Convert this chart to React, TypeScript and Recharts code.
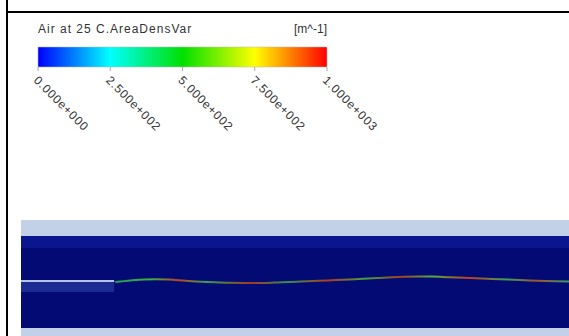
import React from 'react';
import {
  BarChart, Bar, XAxis, YAxis, ComposedChart, Line, ReferenceArea, ReferenceLine,
} from 'recharts';

// Colour legend (Air at 25 C.AreaDensVar, m^-1)
const legendTicks = [0, 250, 500, 750, 1000];
const legendRange = [{ name: 'AreaDensVar', value: 1000 }];
const legendStops = [
  { offset: 0, color: '#0000ff' },
  { offset: 0.25, color: '#00ffff' },
  { offset: 0.5, color: '#00e000' },
  { offset: 0.75, color: '#ffff00' },
  { offset: 1, color: '#ff0000' },
];

// Channel cross-section (x: % of length, y: height in mm)
const interfaceX = [17.2, 20, 22.5, 24.5, 27, 30, 34, 38, 42, 46, 51, 56, 60, 65, 69, 72.5, 75, 78, 82, 86, 91, 95.5, 100];
const interfaceY = [27, 27.8, 28.3, 28.4, 28.2, 27.6, 27, 26.6, 26.5, 26.7, 27.2, 27.8, 28.3, 29, 29.5, 29.7, 29.7, 29.4, 29, 28.5, 28, 27.5, 27.2];
const interfaceData = interfaceX.map((x, i) => ({ x, y: interfaceY[i] }));

const channelTop = 58;
const wallTop = 50;
const upperLayer = 44;
const wallBottom = 4;
const inletEnd = 17;
const inletWall = 27.5;
const inletJetBottom = 22;

const font = '"Liberation Sans", Arial, Helvetica, sans-serif';

const fmt = (v: number) => {
  if (v === 0) return '0.000e+000';
  const e = Math.floor(Math.log10(v));
  const m = v / Math.pow(10, e);
  return `${m.toFixed(3)}e+${String(e).padStart(3, '0')}`;
};

const LegendTick = (props: any) => {
  const { x, y, payload } = props;
  const ax = x - 5;
  const ay = y + 8;
  return (
    <text
      x={ax}
      y={ay}
      transform={`rotate(45, ${ax}, ${ay})`}
      textAnchor="start"
      fontSize={12}
      letterSpacing={0.8}
      fill="#333"
      fontFamily={font}
    >
      {fmt(payload.value)}
    </text>
  );
};

export default function App() {
  return (
    <div style={{ position: 'absolute', left: 0, top: 0, width: 569, height: 336, overflow: 'hidden', background: '#fff' }}>
      {/* frame */}
      <div style={{ position: 'absolute', left: 6, top: 0, width: 2, height: 336, background: '#000' }} />
      <div style={{ position: 'absolute', left: 6, top: 11, width: 563, height: 2, background: '#000' }} />

      {/* legend title */}
      <div style={{ position: 'absolute', left: 38, top: 22, fontFamily: font, fontSize: 12, letterSpacing: 1, color: '#333', whiteSpace: 'nowrap' }}>
        Air at 25 C.AreaDensVar
      </div>
      <div style={{ position: 'absolute', left: 293, top: 22, width: 34, textAlign: 'right', fontFamily: font, fontSize: 12, color: '#333', whiteSpace: 'nowrap' }}>
        [m^-1]
      </div>

      {/* legend colour bar */}
      <div style={{ position: 'absolute', left: 0, top: 0 }}>
        <BarChart
          width={569}
          height={150}
          data={legendRange}
          layout="vertical"
          margin={{ top: 47, left: 38, right: 242, bottom: 0 }}
          barCategoryGap={0}
        >
          <defs>
            <linearGradient id="rainbow" x1="0" y1="0" x2="1" y2="0">
              {legendStops.map((s) => (
                <stop key={s.offset} offset={s.offset} stopColor={s.color} />
              ))}
            </linearGradient>
          </defs>
          <XAxis
            type="number"
            domain={[0, 1000]}
            ticks={legendTicks}
            height={83}
            axisLine={false}
            tickLine={{ stroke: '#aaa' }}
            tickSize={4}
            tick={<LegendTick />}
            interval={0}
          />
          <YAxis type="category" dataKey="name" hide />
          <Bar dataKey="value" fill="url(#rainbow)" stroke="#bbb" strokeWidth={0.5} isAnimationActive={false} />
        </BarChart>
      </div>

      {/* channel contour */}
      <div style={{ position: 'absolute', left: 0, top: 0 }}>
        <ComposedChart
          width={569}
          height={336}
          data={interfaceData}
          margin={{ top: 220, left: 21, right: 0, bottom: 0 }}
        >
          <defs>
            <linearGradient id="iface" x1="0" y1="0" x2="1" y2="0">
              <stop offset="0" stopColor="#20a050" />
              <stop offset="0.08" stopColor="#40b040" />
              <stop offset="0.14" stopColor="#c04020" />
              <stop offset="0.2" stopColor="#30a050" />
              <stop offset="0.3" stopColor="#a03a20" />
              <stop offset="0.38" stopColor="#309050" />
              <stop offset="0.47" stopColor="#b03a20" />
              <stop offset="0.55" stopColor="#40a040" />
              <stop offset="0.63" stopColor="#a04020" />
              <stop offset="0.7" stopColor="#50b040" />
              <stop offset="0.78" stopColor="#c03a20" />
              <stop offset="0.86" stopColor="#40a050" />
              <stop offset="0.93" stopColor="#a05030" />
              <stop offset="1" stopColor="#30a060" />
            </linearGradient>
          </defs>
          <XAxis type="number" dataKey="x" domain={[0, 100]} hide />
          <YAxis type="number" domain={[0, channelTop]} hide />
          <ReferenceArea x1={0} x2={100} y1={wallTop} y2={channelTop} fill="#c3d1e8" fillOpacity={1} stroke="none" />
          <ReferenceArea x1={0} x2={100} y1={upperLayer} y2={wallTop} fill="#0b168e" fillOpacity={1} stroke="none" />
          <ReferenceArea x1={0} x2={100} y1={wallBottom} y2={upperLayer} fill="#040a74" fillOpacity={1} stroke="none" />
          <ReferenceArea x1={0} x2={100} y1={0} y2={wallBottom} fill="#c3d1e8" fillOpacity={1} stroke="none" />
          <ReferenceArea x1={0} x2={inletEnd} y1={inletJetBottom} y2={inletWall} fill="#1b2b94" fillOpacity={1} stroke="none" />
          <ReferenceLine segment={[{ x: 0, y: inletWall }, { x: inletEnd, y: inletWall }]} stroke="#b4c3e3" strokeWidth={2} />
          <Line
            type="monotone"
            dataKey="y"
            stroke="url(#iface)"
            strokeWidth={2}
            dot={false}
            isAnimationActive={false}
          />
        </ComposedChart>
      </div>
    </div>
  );
}
